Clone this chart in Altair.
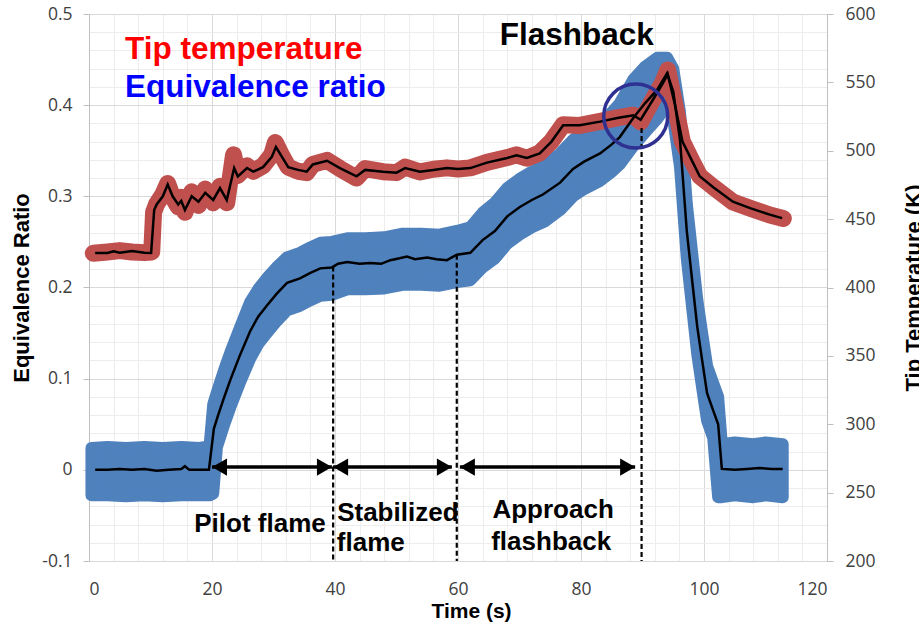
import altair as alt
import pandas as pd

# ---------------- data ----------------
# Equivalence ratio: smoothed mean (black line)
blue_t = [1, 3, 5, 7, 9, 11, 13, 15, 15.6, 16.3, 18, 19.5, 20.3, 21, 22, 23, 24.5, 26.2, 27.5, 28.9,
          30.5, 32.2, 34.3, 36, 37.6, 39.5, 40.5, 42, 44, 45.7, 47.5, 49, 50.5, 51.7, 53, 55, 56.5, 58.2,
          59.8, 62, 64, 66, 68, 70, 72, 73.8, 76.6, 78.7, 80.5, 83.1, 85, 86.3, 88.5, 90.4, 92.4, 94, 95,
          96.1, 97.2, 98.2, 98.9, 99.7, 100.5, 101.5, 102.3, 102.9, 105, 107, 109, 111, 112.8]
blue_er = [0.000, 0.000, 0.001, 0.000, 0.001, -0.001, 0.000, 0.001, 0.004, 0.000, 0.000, 0.000, 0.045,
           0.060, 0.080, 0.099, 0.125, 0.152, 0.168, 0.180, 0.193, 0.205, 0.210, 0.216, 0.221, 0.222,
           0.226, 0.228, 0.226, 0.227, 0.226, 0.230, 0.232, 0.234, 0.231, 0.233, 0.231, 0.230, 0.236,
           0.238, 0.252, 0.262, 0.278, 0.288, 0.296, 0.302, 0.315, 0.330, 0.338, 0.347, 0.357, 0.365,
           0.386, 0.402, 0.417, 0.435, 0.415, 0.362, 0.262, 0.200, 0.157, 0.120, 0.084, 0.065, 0.050,
           0.001, 0.000, 0.001, 0.002, 0.001, 0.001]

# Equivalence ratio: envelope of the raw scatter (blue band)
band_t = [0.4, 3, 6, 9, 12, 15, 18, 19.6, 20.2, 20.8, 22, 23, 24.5, 26.2, 27.5, 28.9, 30.5, 32.2, 34.3,
          36, 37.6, 39.5, 42, 45, 48, 51, 54, 57, 59.8, 62, 64, 66, 68, 70, 72, 74, 76.6, 78.7, 80.5,
          83.1, 85, 86.3, 88.5, 90.4, 92.4, 94, 95, 96.1, 97.2, 98.2, 98.9, 99.7, 100.5, 101.5, 102.3,
          102.9, 105, 108, 110, 112.8]
band_hi = [0.024, 0.025, 0.024, 0.025, 0.024, 0.025, 0.024, 0.026, 0.072, 0.085, 0.110, 0.129, 0.155,
           0.184, 0.198, 0.210, 0.222, 0.233, 0.238, 0.244, 0.249, 0.250, 0.254, 0.254, 0.255, 0.259,
           0.259, 0.258, 0.262, 0.266, 0.282, 0.293, 0.309, 0.319, 0.327, 0.334, 0.347, 0.362, 0.370,
           0.380, 0.392, 0.402, 0.428, 0.442, 0.452, 0.452, 0.440, 0.392, 0.292, 0.230, 0.187, 0.150,
           0.114, 0.095, 0.080, 0.028, 0.030, 0.028, 0.030, 0.028]
band_lo = [-0.028, -0.028, -0.029, -0.028, -0.029, -0.028, -0.028, -0.028, -0.026, 0.025, 0.050, 0.069,
           0.095, 0.122, 0.138, 0.150, 0.163, 0.175, 0.180, 0.186, 0.191, 0.192, 0.198, 0.198, 0.199,
           0.203, 0.203, 0.202, 0.206, 0.208, 0.222, 0.232, 0.248, 0.258, 0.266, 0.272, 0.285, 0.300,
           0.308, 0.317, 0.327, 0.335, 0.355, 0.370, 0.385, 0.400, 0.385, 0.332, 0.232, 0.170, 0.127,
           0.090, 0.054, 0.035, -0.030, -0.030, -0.028, -0.030, -0.028, -0.030]

# Tip temperature (K): smoothed mean (black line)
temp_t = [1, 3, 4, 5, 7, 9, 10.1, 10.6, 11, 12, 12.8, 13.6, 14.5, 15, 15.6, 16.7, 17.8, 18.9, 20.2,
          21.3, 22.4, 23.6, 24.2, 25.7, 26.7, 28.3, 29.7, 30.4, 31.4, 32.4, 34, 35.4, 36.4, 38.7, 40.8,
          43.5, 44.9, 47.8, 50, 51.4, 53.8, 56, 58.2, 60, 62, 64.7, 68, 69.5, 71.2, 73.3, 75.2, 77.1,
          79.8, 83.1, 85.9, 88.5, 89.7, 91.7, 93.3, 94.1, 95.3, 96.5, 98.2, 99.3, 101.5, 104.7, 107.5,
          110.7, 112.7]
temp_k = [425.3, 425.3, 426.5, 425.5, 426.7, 425.5, 425.3, 456.7, 460.7, 466.7, 475.3, 466.7, 460.7,
          463.3, 456.7, 466.7, 462.7, 469.3, 464.0, 472.7, 464.0, 487.3, 481.3, 487.3, 484.7, 488.0,
          495.3, 502.7, 495.3, 488.0, 486.0, 484.7, 490.0, 492.7, 487.3, 481.3, 486.0, 484.7, 484.0,
          487.3, 484.7, 486.0, 487.3, 486.7, 487.3, 491.3, 494.7, 496.7, 494.7, 498.0, 506.7, 518.7,
          518.7, 521.3, 524.0, 526.0, 522.7, 537.3, 549.3, 556.0, 533.3, 506.7, 491.3, 481.3, 473.3,
          462.7, 458.0, 453.3, 450.7]

# Tip temperature (K): raw readings (red band)
raw_t = [0.7, 3, 5, 7, 9, 10.2, 10.5, 11, 12, 12.8, 13.6, 14.5, 15, 15.6, 16.7, 17.8, 18.9, 20.2, 21.3,
         22.4, 23.5, 24.2, 25.7, 26.7, 28.3, 29.7, 30.3, 31.4, 32.4, 34, 35.4, 36.4, 38.7, 40.8, 43.5,
         44.9, 47.8, 50, 51.4, 53.8, 56, 58.2, 60, 62, 64.7, 68, 69.5, 71.2, 73.3, 75.2, 77.1, 79.8,
         83.1, 85.9, 88.5, 89.7, 91.7, 93.3, 94.1, 95.3, 96.5, 98.2, 99.3, 101.5, 104.7, 107.5, 110.7,
         112.9]
raw_k = [425, 426, 427, 426, 425.5, 426, 455, 461, 468, 476, 466, 459, 466, 455, 470, 460, 472, 462,
         474, 462, 497, 482, 489, 485, 489, 497, 506, 496, 488, 485, 484, 490, 493, 487, 480, 487,
         484.7, 484, 488, 484.5, 486.5, 487.5, 486.7, 487.5, 491.5, 495, 497, 494.5, 498.5, 507, 519,
         518.5, 521.5, 524, 526, 521, 537.5, 550, 559, 533, 506.5, 491, 481.5, 473.5, 462.5, 458, 453,
         450.5]

# annotations (data coordinates: time, equivalence ratio)
phase_bounds_t = [39.7, 59.8, 89.85]
phase_bounds_top = [0.223, 0.236, 0.375]
arrow_from = [20.0, 39.7, 60.3]
arrow_to = [39.5, 59.0, 88.8]
arrow_er = [0.003, 0.003, 0.003]
circle_t = [88.9]
circle_er = [0.388]

center_labels = ["Pilot flame"]
center_labels_t = [27.8]
center_labels_er = [-0.068]
left_labels = ["Stabilized", "flame", "Approach", "flashback"]
left_labels_t = [40.35, 40.3, 65.6, 65.4]
left_labels_er = [-0.0556, -0.0885, -0.053, -0.0877]
title_label = ["Flashback"]
title_label_t = [66.8]
title_label_er = [0.466]
legend_red = ["Tip temperature"]
legend_blue = ["Equivalence ratio"]
legend_t = [5.85]
legend_red_er = [0.4505]
legend_blue_er = [0.4095]

x_grid = list(range(0, 121, 4))
y_grid = [round(-0.1 + 0.02 * i, 2) for i in range(31)]
k_ticks = list(range(200, 601, 50))

# ---------------- styling ----------------
BLUE = "#4F81BD"
RED = "#C0504D"
BOLD = "Liberation Sans"
LABEL_FONT = "Open Sans"

xscale = alt.Scale(domain=[0, 120], nice=False, zero=False)
er_scale = alt.Scale(domain=[-0.1, 0.5], nice=False, zero=False)
k_scale = alt.Scale(domain=[200, 600], nice=False, zero=False)

major_x = "datum.value % 20 === 0"
major_y = "abs(datum.value * 10 - round(datum.value * 10)) < 0.001"

x_axis = alt.Axis(
    values=x_grid, title="Time (s)", grid=True,
    gridColor={"condition": {"test": major_x, "value": "#D9D9D9"}, "value": "#EDEDED"},
    labelExpr=f"{major_x} ? format(datum.value, 'd') : ''",
    ticks=False, tickSize=0, domain=False, labelPadding=19, labelOverlap=False,
    labelFont=LABEL_FONT, labelFontSize=17.5, labelColor="#404040",
    titleFont=BOLD, titleFontSize=21, titleFontWeight="bold", titleColor="black",
    titleX=382, titleY=56, titleBaseline="alphabetic", titleAlign="center",
)

left_axis = alt.Axis(
    orient="left", values=y_grid, title="Equivalence Ratio", grid=True,
    gridColor={"condition": {"test": major_y, "value": "#D9D9D9"}, "value": "#EDEDED"},
    labelExpr=f"{major_y} ? replace(format(datum.value, '.1~f'), '\u2212', '-') : ''",
    tickSize=6, tickColor="#BFBFBF",
    tickOpacity={"condition": {"test": major_y, "value": 1}, "value": 0},
    domainColor="#BFBFBF", labelPadding=11, labelOverlap=False,
    labelFont=LABEL_FONT, labelFontSize=17.5, labelColor="#404040",
    titleFont=BOLD, titleFontSize=22, titleFontWeight="bold", titleColor="black",
    titleAngle=270, titleX=-61, titleY=273.5, titleBaseline="alphabetic", titleAlign="center",
)

right_axis = alt.Axis(
    orient="right", values=k_ticks, title="Tip Temperature (K)", grid=False,
    tickSize=6, tickColor="#BFBFBF", domainColor="#BFBFBF", labelPadding=12, labelOverlap=False,
    labelFont=LABEL_FONT, labelFontSize=17.5, labelColor="#404040",
    titleFont=BOLD, titleFontSize=22, titleFontWeight="bold", titleColor="black",
    titleAngle=270, titleX=93, titleY=273.5, titleBaseline="alphabetic", titleAlign="center",
)

X = alt.X("t:Q", scale=xscale, axis=x_axis)


def yer(field, axis=None):
    return alt.Y(field, type="quantitative", scale=er_scale, axis=axis)


def yk(field, axis=None):
    return alt.Y(field, type="quantitative", scale=k_scale, axis=axis)


df_band = pd.DataFrame({"t": band_t, "hi": band_hi, "lo": band_lo})
df_blue = pd.DataFrame({"t": blue_t, "er": blue_er})
df_temp = pd.DataFrame({"t": temp_t, "k": temp_k})
df_raw = pd.DataFrame({"t": raw_t, "k": raw_k})
df_dash = pd.DataFrame({"t": phase_bounds_t, "top": phase_bounds_top, "bottom": [-0.1] * 3})
df_arrow = pd.DataFrame({"t": arrow_from, "t2": arrow_to, "er": arrow_er})
df_head_r = pd.DataFrame({"t": arrow_to, "er": arrow_er})
df_circle = pd.DataFrame({"t": circle_t, "er": circle_er})

blue_band = alt.Chart(df_band).mark_area(
    color=BLUE, stroke=BLUE, strokeWidth=12, strokeJoin="round", opacity=1
).encode(x=X, y=yer("hi", left_axis), y2="lo:Q")

red_band = alt.Chart(df_raw).mark_line(
    color=RED, strokeWidth=17, strokeCap="round", strokeJoin="round"
).encode(x=X, y=yk("k", right_axis))

blue_line = alt.Chart(df_blue).mark_line(color="black", strokeWidth=2.5).encode(x=X, y=yer("er"))
red_line = alt.Chart(df_temp).mark_line(color="black", strokeWidth=2.5).encode(x=X, y=yk("k"))

dashed = alt.Chart(df_dash).mark_rule(color="black", strokeDash=[5, 3], strokeWidth=2.2).encode(
    x=X, y=yer("top"), y2="bottom:Q")

shafts = alt.Chart(df_arrow).mark_rule(color="black", strokeWidth=3.5).encode(
    x=X, x2="t2:Q", y=yer("er"))
heads_l = alt.Chart(df_arrow).mark_point(
    shape="triangle-left", filled=True, size=300, color="black", opacity=1, xOffset=7.5
).encode(x=X, y=yer("er"))
heads_r = alt.Chart(df_head_r).mark_point(
    shape="triangle-right", filled=True, size=300, color="black", opacity=1, xOffset=-7.5
).encode(x=X, y=yer("er"))

circle = alt.Chart(df_circle).mark_point(
    shape="circle", size=4096, filled=False, color="#2E3192", strokeWidth=3.5, opacity=1
).encode(x=X, y=yer("er"))


def text_layer(texts, ts, ers, align, size, color):
    df = pd.DataFrame({"t": ts, "er": ers, "label": texts})
    return alt.Chart(df).mark_text(
        align=align, baseline="alphabetic", font=BOLD, fontWeight="bold", fontSize=size, color=color
    ).encode(x=X, y=yer("er"), text="label:N")


txt_center = text_layer(center_labels, center_labels_t, center_labels_er, "center", 26, "black")
txt_left = text_layer(left_labels, left_labels_t, left_labels_er, "left", 26, "black")
txt_title = text_layer(title_label, title_label_t, title_label_er, "left", 31.5, "black")
txt_red = text_layer(legend_red, legend_t, legend_red_er, "left", 31.5, "#FF0000")
txt_blue = text_layer(legend_blue, legend_t, legend_blue_er, "left", 31.5, "#0000FF")

chart = alt.layer(
    blue_band, red_band, blue_line, red_line, dashed, shafts, heads_l, heads_r, circle,
    txt_center, txt_left, txt_title, txt_red, txt_blue,
).resolve_scale(y="independent").properties(
    width=738, height=547,
    padding={"left": 89, "top": 14, "right": 92, "bottom": 63},
    autosize=alt.AutoSizeParams(type="none"),
    background="white",
).configure_view(stroke=None)

chart.save("out.html", embed_options={"renderer": "svg", "actions": False})
